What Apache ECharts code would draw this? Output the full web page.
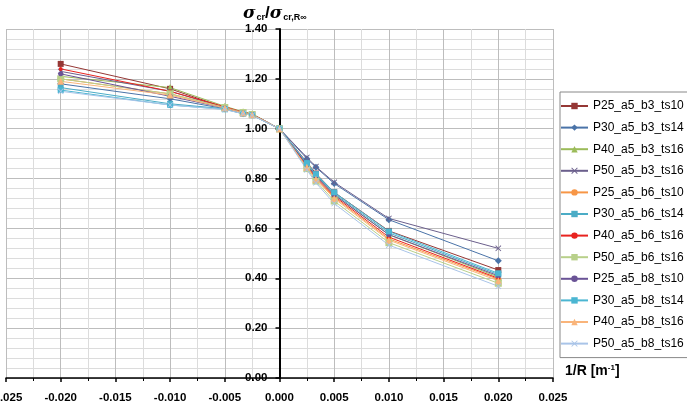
<!DOCTYPE html>
<html>
<head>
<meta charset="utf-8">
<script src="https://cdn.jsdelivr.net/npm/echarts@6/dist/echarts.min.js"></script>
<style>html,body{margin:0;padding:0;background:#fff}#c{width:687px;height:407px}</style>
</head>
<body>
<div id="c"></div>
<script>
// 1/R values [m^-1]
const xValues = [-0.02, -0.01, -0.005, -0.00333, -0.0025, 0, 0.0025, 0.00333, 0.005, 0.01, 0.02];
const seriesNames = ['P25_a5_b3_ts10','P30_a5_b3_ts14','P40_a5_b3_ts16','P50_a5_b3_ts16','P25_a5_b6_ts10','P30_a5_b6_ts14','P40_a5_b6_ts16','P50_a5_b6_ts16','P25_a5_b8_ts10','P30_a5_b8_ts14','P40_a5_b8_ts16','P50_a5_b8_ts16'];
const P25_b3_ts10 = [1.26, 1.16, 1.085, 1.065, 1.058, 1.00, 0.865, 0.820, 0.745, 0.590, 0.433];
const P30_b3_ts14 = [1.18, 1.12, 1.080, 1.060, 1.055, 1.00, 0.880, 0.845, 0.780, 0.635, 0.470];
const P40_b3_ts16 = [1.21, 1.165, 1.090, 1.068, 1.060, 1.00, 0.855, 0.810, 0.735, 0.575, 0.405];
const P50_b3_ts16 = [1.23, 1.15, 1.085, 1.066, 1.058, 1.00, 0.885, 0.848, 0.785, 0.640, 0.520];
const P25_b6_ts10 = [1.20, 1.14, 1.085, 1.065, 1.057, 1.00, 0.848, 0.800, 0.725, 0.558, 0.396];
const P30_b6_ts14 = [1.165, 1.10, 1.080, 1.062, 1.055, 1.00, 0.860, 0.815, 0.740, 0.582, 0.415];
const P40_b6_ts16 = [1.24, 1.15, 1.088, 1.066, 1.058, 1.00, 0.850, 0.805, 0.730, 0.565, 0.400];
const P50_b6_ts16 = [1.20, 1.14, 1.085, 1.065, 1.057, 1.00, 0.840, 0.790, 0.710, 0.543, 0.380];
const P25_b8_ts10 = [1.22, 1.13, 1.083, 1.063, 1.056, 1.00, 0.855, 0.810, 0.735, 0.575, 0.410];
const P30_b8_ts14 = [1.155, 1.095, 1.078, 1.060, 1.054, 1.00, 0.862, 0.818, 0.745, 0.588, 0.420];
const P40_b8_ts16 = [1.19, 1.135, 1.083, 1.063, 1.056, 1.00, 0.845, 0.797, 0.720, 0.553, 0.390];
const P50_b8_ts16 = [1.15, 1.095, 1.077, 1.060, 1.054, 1.00, 0.835, 0.783, 0.700, 0.533, 0.368];
const seriesValues = [P25_b3_ts10,P30_b3_ts14,P40_b3_ts16,P50_b3_ts16,P25_b6_ts10,P30_b6_ts14,P40_b6_ts16,P50_b6_ts16,P25_b8_ts10,P30_b8_ts14,P40_b8_ts16,P50_b8_ts16];

const X = 'path://M0,1L1,0L5,4L9,0L10,1L6,5L10,9L9,10L5,6L1,10L0,9L4,5Z';
const DASH = 'path://M0,4L10,4L10,6L0,6Z';
const styles = [
  {c:'#953735', s:'rect', z:6},
  {c:'#4A73A8', s:'diamond', z:7},
  {c:'#9BBB59', s:'triangle', z:7},
  {c:'#6B5F8C', s:X, z:6},
  {c:'#F79646', s:'circle', z:6},
  {c:'#4BACC6', s:'rect', z:6},
  {c:'#E8231F', s:'circle', z:4},
  {c:'#B8D08A', s:DASH, z:7},
  {c:'#6A5396', s:'circle', z:5},
  {c:'#4BB6D2', s:'rect', z:6},
  {c:'#F9B47A', s:'triangle', z:7},
  {c:'#A9C4E8', s:X, z:6}
];

const GRID_LEFT = 6, GRID_RIGHT = 134, W = 687;
const zeroOffset = -((W - GRID_LEFT - GRID_RIGHT) / 2);

const chart = echarts.init(document.getElementById('c'), null, {renderer:'canvas'});
const series = seriesNames.map((n,i)=>({
  name:n, type:'line',
  data: xValues.map((x,j)=>[x, seriesValues[i][j]]),
  symbol: styles[i].s, symbolSize: styles[i].z,
  lineStyle:{color:styles[i].c, width:1},
  itemStyle:{color:styles[i].c},
  emphasis:{disabled:true},
  animation:false
}));

chart.setOption({
  animation:false,
  title:{
    text:'{s|σ}{b|cr}{sl|/}{s|σ}{b|cr,R∞}',
    left:238, top:-5,
    textStyle:{
      rich:{
        s:{fontFamily:'DejaVu Serif', fontStyle:'italic', fontSize:17, color:'#000', verticalAlign:'bottom', lineHeight:22},
        sl:{fontFamily:'Liberation Sans', fontWeight:'bold', fontSize:17, color:'#000', verticalAlign:'bottom', lineHeight:22},
        b:{fontFamily:'Liberation Sans', fontWeight:'bold', fontSize:9, color:'#000', verticalAlign:'bottom', lineHeight:16, padding:[0,0,0,1]}
      }
    }
  },
  legend:{
    orient:'vertical', left:560, top:92,
    itemWidth:27, itemHeight:8, itemGap:9.6,
    textStyle:{fontFamily:'Liberation Sans', fontSize:12, color:'#000'},
    data: seriesNames,
    borderColor:'#888', borderWidth:1, padding:[8,4,8,0]
  },
  grid:{left:GRID_LEFT, right:GRID_RIGHT, top:29, bottom:29, containLabel:false, outerBoundsMode:'none'},
  xAxis:{
    type:'value', min:-0.025, max:0.025, interval:0.005,
    name:'{a|1/R [m}{sup|-1}{a|]}', nameLocation:'end', nameGap:12,
    nameTextStyle:{padding:[0,0,14,0], rich:{
      a:{fontFamily:'Liberation Sans', fontWeight:'bold', fontSize:14, color:'#000'},
      sup:{fontFamily:'Liberation Sans', fontWeight:'bold', fontSize:8, color:'#000', verticalAlign:'top', padding:[0,0,7,0]}
    }},
    axisLine:{onZero:false, lineStyle:{color:'#000', width:1.5}},
    axisTick:{show:true, length:4, lineStyle:{color:'#000', width:1.5}},
    minorTick:{show:true, splitNumber:2, length:3, lineStyle:{color:'#000'}},
    axisLabel:{margin:14, formatter:v=>v.toFixed(3), fontFamily:'Liberation Sans', fontWeight:'bold', fontSize:11.5, color:'#000'},
    splitLine:{show:true, lineStyle:{color:'#bdbdbd', width:1}},
    minorSplitLine:{show:true, lineStyle:{color:'#dcdcdc', width:1}}
  },
  yAxis:{
    type:'value', min:0, max:1.4, interval:0.2,
    position:'left', offset: zeroOffset,
    axisLine:{show:true, onZero:false, lineStyle:{color:'#000', width:2}},
    axisTick:{show:true, length:4, lineStyle:{color:'#000', width:1.5}},
    minorTick:{show:false},
    axisLabel:{show:true, margin:12, formatter:v=>v.toFixed(2), fontFamily:'Liberation Sans', fontWeight:'bold', fontSize:11.5, color:'#000'},
    splitLine:{show:true, lineStyle:{color:'#bdbdbd', width:1}},
    minorSplitLine:{show:true, lineStyle:{color:'#dcdcdc', width:1}}
  },
  series: series
});
</script>
</body>
</html>
